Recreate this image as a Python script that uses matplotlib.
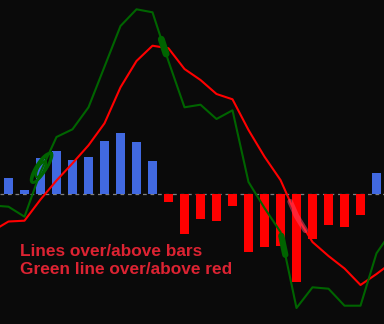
import numpy as np
import matplotlib
matplotlib.use("Agg")
import matplotlib.pyplot as plt

# Histogram values per bar (index 0..23)
hist = [16, 4, 36, 43, 34, 37, 53, 61, 52, 33, -8, -40, -25, -27, -12,
        -58, -53, -52, -88, -45, -31, -33, -21, 21]
# Line values for index -1..24
green = [-11.5, -12.7, -22.7, 22, 57, 64.7, 86.7, 127.3, 168, 184.7, 181.7,
         132.7, 86.7, 89.3, 75, 83.7, 12, -14, -38, -114, -93.3, -94.7,
         -111.7, -111.7, -59.3, -36]
red = [-37, -27.5, -26.7, -5.5, 13.5, 30.7, 48.7, 70.7, 106.7, 133, 148.3,
       145.7, 125, 114, 100, 94.7, 64, 37.3, 14, -22, -48, -62, -74.5, -91,
       -80, -68]
labels = ["Lines over/above bars", "Green line over/above red"]

BG = "#0a0a0a"
GREEN = "#006400"
RED = "#ff0000"
BLUE = "#4169e1"
TXT = "#dc2332"

fig = plt.figure(figsize=(3.84, 3.24), dpi=100, facecolor=BG)
ax = fig.add_axes([0, 0, 1, 1])
ax.set_facecolor(BG)

xb = np.arange(len(hist))
xl = np.arange(-1, len(green) - 1)
colors = [BLUE if v >= 0 else RED for v in hist]
ax.bar(xb, hist, width=0.5625, color=colors, zorder=2, linewidth=0)
ax.axhline(0, color="#808080", lw=0.9, dashes=(3, 3), zorder=1)

ax.plot(xl, red, color=RED, lw=1.5, zorder=3, solid_joinstyle="round")
ax.plot(xl, green, color=GREEN, lw=1.5, zorder=4, solid_joinstyle="round")

# hand-drawn style annotation marks along the lines
def seg(vals, a, b, n=20):
    t = np.linspace(a, b, n)
    return t, np.interp(t, xl, vals)

t, v = seg(green, 9.55, 9.85)
ax.plot(t, v, color=GREEN, lw=5, zorder=5, solid_capstyle="round")
t, v = seg(green, 17.05, 17.3)
ax.plot(t, v, color=GREEN, lw=4.5, zorder=5, solid_capstyle="round")
t, v = seg(red, 17.6, 18.55)
ax.plot(t, v, color="#ff4060", lw=4, alpha=0.55, zorder=5, solid_capstyle="round")

# loop scribble near index 2 (sizes in pixels, converted to data units)
cx, cy = 2.03, 26
th = np.linspace(0, 2 * np.pi, 100)
ang = np.deg2rad(58)
for a, b, ox, oy in [(17, 5, 0, 0), (14, 4, 3, 3), (12, 3.5, -2, -4)]:
    along = a * np.cos(th)
    perp = b * np.sin(th)
    dx = along * np.cos(ang) - perp * np.sin(ang) + ox
    dy = along * np.sin(ang) + perp * np.cos(ang) + oy
    ax.plot(cx + dx / 16.0, cy + dy, color=GREEN, lw=1.8, zorder=5)

ax.set_xlim(-8.5 / 16, (384 - 8.5) / 16)
ax.set_ylim(194 - 324, 194)
ax.axis("off")

ax.text(20 / 384, 1 - 256 / 324, labels[0], transform=ax.transAxes,
        color=TXT, fontsize=12.4, fontweight="bold", family="Liberation Sans",
        va="baseline", ha="left", zorder=6)
ax.text(20 / 384, 1 - 274.3 / 324, labels[1], transform=ax.transAxes,
        color=TXT, fontsize=12.4, fontweight="bold", family="Liberation Sans",
        va="baseline", ha="left", zorder=6)

fig.savefig("out.png", dpi=100, facecolor=BG)
